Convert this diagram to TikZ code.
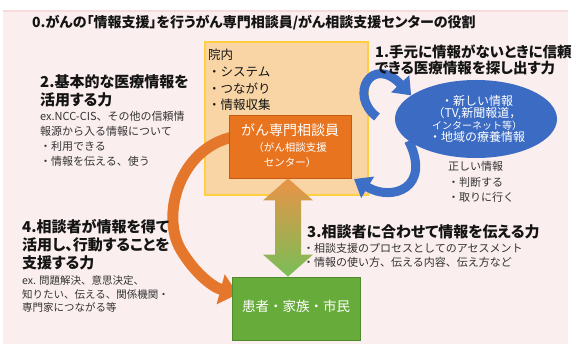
\documentclass[tikz,border=0pt]{standalone}
\usepackage{fontspec}
\setmainfont{Noto Sans CJK JP}
\usetikzlibrary{arrows.meta,shapes.geometric,calc}
\pgfdeclarelayer{bg}
\pgfdeclarelayer{arcs}
\pgfsetlayers{bg,arcs,main}
\definecolor{pinkbg}{HTML}{FBEEEE}
\definecolor{pinkedge}{HTML}{F6DADC}
\definecolor{peachfill}{HTML}{F9D5A6}
\definecolor{peachedge}{HTML}{FFCF3F}
\definecolor{staffor}{HTML}{E8741F}
\definecolor{staffedge}{HTML}{C55A14}
\definecolor{arcblue}{HTML}{3E6FC6}
\definecolor{ellblue}{HTML}{3B6BC3}
\definecolor{arcorange}{HTML}{E5772D}
\definecolor{grfill}{HTML}{67AC3B}
\definecolor{gredge}{HTML}{4F8B2C}
\definecolor{dbltop}{HTML}{EA9347}
\definecolor{dblbot}{HTML}{79BE57}
\definecolor{txtdark}{HTML}{141414}
\definecolor{txtbody}{HTML}{333333}
\begin{document}
\begin{tikzpicture}[x=1pt,y=-1pt,
  hd/.style={anchor=north west,align=left,inner sep=0pt,text=txtdark,font=\bfseries\addfontfeatures{RawFeature=+palt}\fontsize{15}{18}\selectfont},
  bd/.style={anchor=north west,align=left,inner sep=0pt,text=txtbody,font=\fontsize{11}{14.7}\selectfont},
  bluearc/.style={draw=arcblue,line width=9pt,-{Triangle[width=24pt,length=16pt]}},
  orgarc/.style={draw=arcorange,line width=11pt,-{Triangle[width=30pt,length=18pt]}},
  wtxt/.style={inner sep=0pt,text=white,align=center}
]
\useasboundingbox (0,0) rectangle (574,344);
\begin{pgfonlayer}{bg}
  \fill[white] (0,0) rectangle (574,344);
  \fill[pinkbg] (3,10) rectangle (568,344);
  \draw[pinkedge,line width=2pt] (3,11) -- (568,11);
  \node[draw=peachedge,line width=2pt,fill=peachfill,minimum width=163pt,minimum height=153pt,inner sep=0pt] (inhouse) at (286.5,118.5) {};
\end{pgfonlayer}

% coordinates for free ends
\coordinate (b1s) at (377,117);
\coordinate (b2e) at (354,179);
\coordinate (o1s) at (233,137);
\coordinate (o1e) at (238,294);

% main boxes
\node[draw=staffedge,line width=0.8pt,fill=staffor,minimum width=122pt,minimum height=63pt,inner sep=0pt] (staff) at (290,146.5) {};
\node[ellipse,fill=ellblue,minimum width=162pt,minimum height=78pt,inner sep=0pt] (info) at (476,119) {};
\node[draw=gredge,line width=0.8pt,fill=grfill,minimum width=128pt,minimum height=63pt,inner sep=0pt] (patients) at (296,308.5) {};

\begin{pgfonlayer}{arcs}
  \draw[orgarc] (o1s) .. controls (180,148) and (160,215) .. (181,250) .. controls (194,272) and (212,287) .. (o1e);
  \draw[bluearc] (b1s) .. controls (348,95) and (372,54) .. (info.160);
  \draw[bluearc] (info.198) .. controls (432,188) and (392,202) .. (b2e);
\end{pgfonlayer}

% double arrow between staff and patients
\coordinate (xc) at (288,0);
\coordinate (dt) at (xc |- staff.south);
\coordinate (db) at (xc |- patients.north);
\shade[top color=dbltop,bottom color=dblbot]
  (dt) -- ++(25,22) -- ++(-12,0) -- ($(db)+(13,-22)$) -- ++(12,0) -- (db)
  -- ++(-25,-22) -- ++(12,0) -- ($(dt)+(-13,22)$) -- ++(-12,0) -- cycle;

% texts in boxes
\node[wtxt,font=\fontsize{14}{16}\selectfont] (stafft) at (290,130) {がん専門相談員};
\node[wtxt,font=\fontsize{10.5}{15}\selectfont] (staffs) at (290,155.5) {（がん相談支援\\センター）};
\node[wtxt] (infot) at (477,119) {\fontsize{12}{16}\selectfont ・新しい情報\\ \fontsize{12}{16}\selectfont （TV,新聞報道，\\ \fontsize{10}{16}\selectfont インターネット等）\\ \fontsize{12}{16}\selectfont ・地域の療養情報};
\node[wtxt,font=\fontsize{13.5}{16}\selectfont] (patt) at (296,306) {患者・家族・市民};
\node[bd,text=txtdark,font=\fontsize{12.5}{16.8}\selectfont] (inhouset) at (208,48.75) {院内\\・システム\\・つながり\\・情報収集};

% title
\node[hd,font=\bfseries\addfontfeatures{RawFeature=+palt}\fontsize{14}{16}\selectfont] (title) at (32,15) {0.がんの「情報支援」を行うがん専門相談員/がん相談支援センターの役割};

% block 1
\node[hd,font=\bfseries\addfontfeatures{RawFeature=+palt}\fontsize{14.5}{15.5}\selectfont] (h1) at (375,44.75) {1.手元に情報がないときに信頼\\できる医療情報を探し出す力};
\node[bd,font=\fontsize{11}{15.5}\selectfont] (b1) at (448,161.5) {正しい情報\\・判断する\\・取りに行く};

% block 2
\node[hd] (h2) at (40,74.5) {2.基本的な医療情報を\\活用する力};
\node[bd] (b2) at (40,111.5) {ex.NCC-CIS、その他の信頼情\\報源から入る情報について\\・利用できる\\・情報を伝える、使う};

% block 3
\node[hd] (h3) at (307,224.5) {3.相談者に合わせて情報を伝える力};
\node[bd,font=\fontsize{11}{14}\selectfont] (b3) at (303,243.5) {・相談支援のプロセスとしてのアセスメント\\・情報の使い方、伝える内容、伝え方など};

% block 4
\node[hd] (h4) at (22,219.5) {4.相談者が情報を得て\\活用し、行動することを\\支援する力};
\node[bd,font=\fontsize{10.5}{13.5}\selectfont] (b4) at (22,275.75) {ex. 問題解決、意思決定、\\知りたい、伝える、関係機関・\\専門家につながる等};
\end{tikzpicture}
\end{document}
